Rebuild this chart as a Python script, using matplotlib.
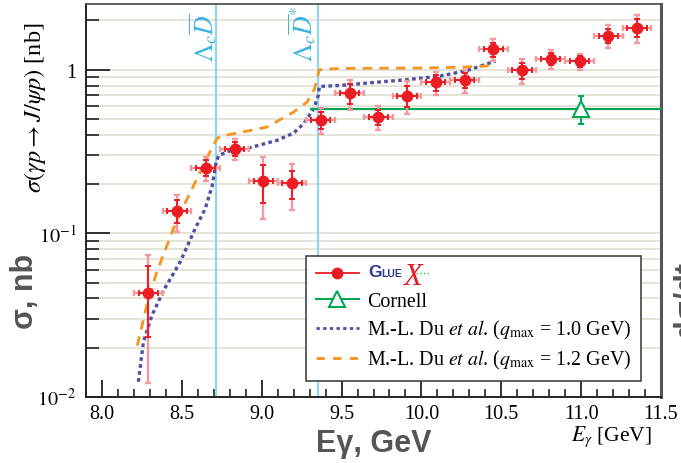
import matplotlib
matplotlib.use("Agg")
import matplotlib.pyplot as plt
from matplotlib.lines import Line2D
from matplotlib.ticker import FixedLocator, FixedFormatter, MultipleLocator, FormatStrFormatter

plt.rcParams['font.family'] = 'serif'
plt.rcParams['font.serif'] = ['Liberation Serif', 'DejaVu Serif']
plt.rcParams['mathtext.fontset'] = 'stix'

# GlueX J/psi photoproduction cross section
gluex_E = [8.29, 8.47, 8.65, 8.83, 9.01, 9.19, 9.37, 9.55, 9.73,
           9.91, 10.09, 10.27, 10.45, 10.63, 10.81, 10.99, 11.17, 11.35]
gluex_sigma = [0.0432, 0.137, 0.251, 0.329, 0.2075, 0.2017, 0.494, 0.716, 0.513,
               0.690, 0.836, 0.860, 1.331, 0.990, 1.162, 1.124, 1.614, 1.806]
gluex_err_tot = [0.031, 0.035, 0.042, 0.050, 0.085, 0.062, 0.090, 0.152, 0.084,
                 0.157, 0.136, 0.135, 0.205, 0.170, 0.149, 0.130, 0.251, 0.355]
gluex_err_stat = [0.020, 0.022, 0.028, 0.032, 0.055, 0.040, 0.060, 0.100, 0.055,
                  0.100, 0.090, 0.090, 0.135, 0.110, 0.100, 0.085, 0.165, 0.230]
gluex_Ebin = [0.09] * len(gluex_E)
gluex_Ebin_inner = [0.06] * len(gluex_E)

# Cornell measurement
cornell_E = [11.0]
cornell_sigma = [0.577]
cornell_err = [0.112]
cornell_band = [9.30, 11.5]

# M.-L. Du et al., q_max = 1.0 GeV
du10_E = [8.228, 8.259, 8.312, 8.385, 8.489, 8.583, 8.646, 8.690, 8.713, 8.730,
          8.803, 8.908, 9.096, 9.200, 9.263, 9.326, 9.355, 9.361, 9.493, 9.700,
          9.910, 10.120, 10.288, 10.465]
du10_sigma = [0.0124, 0.0216, 0.0314, 0.0447, 0.0667, 0.1066, 0.141, 0.195, 0.265, 0.299,
              0.320, 0.330, 0.370, 0.410, 0.468, 0.577, 0.700, 0.790, 0.801, 0.835,
              0.869, 0.915, 0.990, 1.130]

# M.-L. Du et al., q_max = 1.2 GeV
du12_E = [8.221, 8.280, 8.343, 8.447, 8.530, 8.615, 8.680, 8.719, 8.740, 8.824,
          9.033, 9.200, 9.284, 9.330, 9.361, 9.493, 10.000, 10.250, 10.445]
du12_sigma = [0.0206, 0.0362, 0.058, 0.1066, 0.160, 0.237, 0.320, 0.378, 0.392, 0.406,
              0.446, 0.551, 0.634, 0.760, 1.000, 1.018, 1.024, 1.035, 1.058]

# open-charm thresholds
thresholds = [8.713, 9.353]
threshold_labels = [r'$\Lambda_c\overline{D}$', r'$\Lambda_c\overline{D}^{*}$']
threshold_label_x = [8.630, 9.255]

y_major = [0.01, 0.1, 1.0]
y_major_labels = [r'$10^{-2}$', r'$10^{-1}$', '1']

W, H = 681, 464
fig = plt.figure(figsize=(W / 100, H / 100), dpi=100)
ax = fig.add_axes([86 / W, 1 - 398 / H, 575 / W, 393 / H])

ax.set_xlim(7.9, 11.5)
ax.set_yscale('log')
ax.set_ylim(0.01, 2.52)

# axes & ticks
ax.xaxis.set_major_locator(MultipleLocator(0.5))
ax.xaxis.set_minor_locator(MultipleLocator(0.1))
ax.xaxis.set_major_formatter(FormatStrFormatter('%.1f'))
ax.yaxis.set_major_locator(FixedLocator(y_major))
ax.yaxis.set_major_formatter(FixedFormatter(y_major_labels))
minors = [k * 10.0 ** d for d in (-2, -1, 0) for k in range(2, 10)]
ax.yaxis.set_minor_locator(FixedLocator(minors))
ax.yaxis.set_minor_formatter(FixedFormatter([''] * len(minors)))

ax.tick_params(axis='x', which='major', direction='in', length=12, width=1.3,
               color='#222222', labelsize=14.5, pad=5, top=False)
ax.tick_params(axis='x', which='minor', direction='in', length=6, width=1.2,
               color='#222222', top=False)
ax.tick_params(axis='y', which='major', direction='in', length=17, width=1.3,
               color='#222222', labelsize=14.5, pad=7, right=False)
ax.tick_params(axis='y', which='minor', direction='in', length=9, width=1.2,
               color='#222222', right=False)

ax.yaxis.grid(True, which='both', color='#e4e4d8', lw=1.4)
ax.set_axisbelow(True)

for s in ('left', 'bottom'):
    ax.spines[s].set_color('#222222')
    ax.spines[s].set_linewidth(1.4)
ax.spines['top'].set_color('#555555')
ax.spines['top'].set_linewidth(1.3)
ax.spines['right'].set_color('#555555')
ax.spines['right'].set_linewidth(2.2)

# thresholds
for xt, lab, xl in zip(thresholds, threshold_labels, threshold_label_x):
    ax.axvline(xt, color='#8fd6f0', lw=1.6, zorder=1.5)
    ax.text(xl, 1.13, lab, rotation=90, ha='center', va='bottom',
            color='#3ab3e2', fontsize=18.5)

# model curves
c_blue = '#4f4fa3'
c_orange = '#f7941e'
ax.plot(du10_E, du10_sigma, color=c_blue, lw=2.4, dashes=(1.1, 1.0), zorder=3)
ax.plot(du12_E, du12_sigma, color=c_orange, lw=2.0, dashes=(3.4, 2.6), zorder=3)

# Cornell
c_green = '#00a651'
ax.hlines(cornell_sigma[0], cornell_band[0], cornell_band[1], color=c_green, lw=1.6, zorder=3)
ax.errorbar(cornell_E, cornell_sigma, yerr=cornell_err, fmt='^', ms=11, mfc='white',
            mec=c_green, mew=1.5, ecolor=c_green, elinewidth=1.5, capsize=2.5, zorder=4)

# GlueX
c_red = '#ed1c24'
ax.errorbar(gluex_E, gluex_sigma, yerr=gluex_err_tot, xerr=gluex_Ebin, fmt='none',
            ecolor='#f39a9e', elinewidth=1.7, capsize=2.5, capthick=1.7, zorder=4)
ax.errorbar(gluex_E, gluex_sigma, yerr=gluex_err_stat, xerr=gluex_Ebin_inner,
            fmt='none', ecolor=c_red, elinewidth=1.4, capsize=2.2, capthick=1.4, zorder=5)
ax.plot(gluex_E, gluex_sigma, 'o', color=c_red, ms=7.5, zorder=6)

# legend
handles = [
    Line2D([], [], color=c_red, lw=1.3, marker='o', ms=7.5),
    Line2D([], [], color=c_green, lw=1.5, marker='^', ms=11, mfc='white', mec=c_green, mew=1.5),
    Line2D([], [], color=c_blue, lw=2.0, dashes=(1.2, 1.2)),
    Line2D([], [], color=c_orange, lw=2.0, dashes=(3.0, 3.0)),
]
labels = [' ', 'Cornell',
          r'M.-L. Du $et\ al$. ($q_{\mathrm{max}}$ = 1.0 GeV)',
          r'M.-L. Du $et\ al$. ($q_{\mathrm{max}}$ = 1.2 GeV)']
leg = ax.legend(handles, labels, loc='upper left', bbox_to_anchor=(0.3826, 0.3595),
                borderaxespad=0, fontsize=14.4, handlelength=2.15, handletextpad=0.4,
                labelspacing=0.36, borderpad=0.5, fancybox=False, framealpha=1,
                edgecolor='#444444')
leg.get_frame().set_linewidth(1.2)
leg.set_zorder(10)

# GlueX logo in the first legend row
def px(x, y):
    return x / W, 1 - y / H

fig.text(*px(368, 277.5), 'G', color='#2b3990', fontsize=12.5, fontweight='bold',
         family='Liberation Sans', ha='left', va='baseline', zorder=20)
fig.text(*px(381, 277.5), 'LUE', color='#2b3990', fontsize=7.5, fontweight='bold',
         family='Liberation Sans', ha='left', va='baseline', zorder=20)
fig.text(*px(403, 285), 'X', color='#e11d25', fontsize=22, style='italic',
         family='Liberation Serif', ha='left', va='baseline', zorder=20)
fig.add_artist(Line2D([416 / W, 429 / W], [1 - 273.5 / H, 1 - 273.5 / H],
                      color='#3db54a', lw=1.0, ls=':', zorder=21))

# axis titles
fig.text(35 / W, 1 - 108 / H, r'$\sigma(\gamma p \to J/\psi p)$ [nb]', rotation=90,
         ha='center', va='center', fontsize=17.5)
fig.text(652 / W, 1 - 437 / H, r'$E_{\gamma}$ [GeV]', ha='right', va='center', fontsize=15.5)

# overlay annotations
fig.text(25 / W, 1 - 291 / H, 'σ, nb', rotation=90, ha='center', va='center',
         fontsize=22, fontweight='bold', family='Liberation Sans', color='#555555')
fig.text(374 / W, 1 - 444 / H, 'Eγ, GeV', ha='center', va='center',
         fontsize=22, fontweight='bold', family='Liberation Sans', color='#555555')
fig.text(672 / W, 1 - 300 / H, 'dσ/dt', rotation=90, ha='left', va='center',
         fontsize=22, fontweight='bold', family='Liberation Sans', color='#555555')

fig.savefig('out.png', dpi=100)
